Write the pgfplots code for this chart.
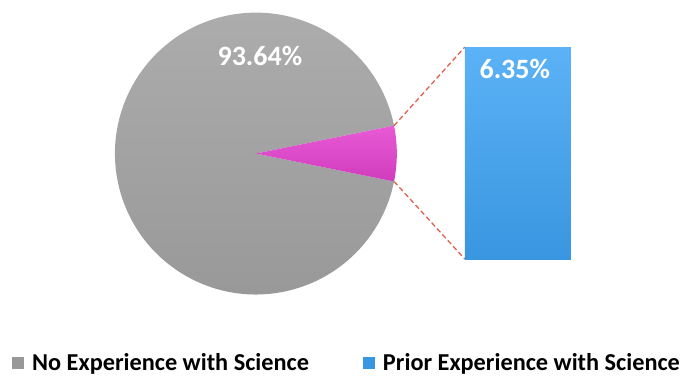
\documentclass[border=0pt]{standalone}
\usepackage{fontspec}
\setmainfont{Carlito}
\usepackage{pgfplots}
\pgfplotsset{compat=1.18}
\definecolor{pieTop}{HTML}{ADADAD}
\definecolor{pieBot}{HTML}{989898}
\definecolor{pinkTop}{HTML}{E85AD6}
\definecolor{pinkBot}{HTML}{D03CBC}
\definecolor{blueTop}{HTML}{5CB2F6}
\definecolor{blueBot}{HTML}{3996E0}
\definecolor{dashRed}{HTML}{E0604E}
\begin{document}
\begin{tikzpicture}
\def\valNo{93.64}
\def\valPrior{6.35}
\pgfmathsetmacro{\half}{\valPrior*3.6/2}
\begin{axis}[
  scale only axis, width=682bp, height=377bp,
  xmin=0, xmax=682, ymin=0, ymax=377,
  hide axis, clip=false,
  legend columns=2,
  legend style={at={(axis cs:12,15)}, anchor=west, draw=none, fill=none,
    font=\bfseries\fontsize{24.3bp}{26bp}\selectfont, inner sep=0pt,
    nodes={inner sep=2bp},
    /tikz/every even column/.append style={column sep=52bp}},
  legend cell align=left,
]
\addlegendimage{legend image code/.code={\fill[pieBot, draw=none] (0bp,-6bp) rectangle (12bp,6bp); \path[draw=none, fill=none] (0bp,0bp) rectangle (18bp,0.1bp);}}
\addlegendentry{No Experience with Science}
\addlegendimage{legend image code/.code={\fill[blueBot, draw=none] (0bp,-6bp) rectangle (12bp,6bp); \path[draw=none, fill=none] (0bp,0bp) rectangle (18bp,0.1bp);}}
\addlegendentry{Prior Experience with Science}
\path (axis cs:0,0) rectangle (axis cs:682,377);
% pie: main (gray) sector
\shade[top color=pieTop, bottom color=pieBot]
  (axis cs:256,224.5) -- ++(\half:141bp) arc[start angle=\half, end angle=360-\half, radius=141bp] -- cycle;
% pie: small (pink) sector
\shade[top color=pinkTop, bottom color=pinkBot]
  (axis cs:256,224.5) -- ++(-\half:141bp) arc[start angle=-\half, end angle=\half, radius=141bp] -- cycle;
% connector lines
\addplot[forget plot, dashRed, line width=1.3pt, dash pattern=on 5pt off 3pt] coordinates {(394.2,252.4) (465,331)};
\addplot[forget plot, dashRed, line width=1.3pt, dash pattern=on 5pt off 3pt] coordinates {(394.2,196.6) (465,119)};
% bar of the small share
\addplot[forget plot, draw=none, top color=blueTop, bottom color=blueBot]
  coordinates {(465,119) (571,119) (571,331) (465,331)} -- cycle;
\node[text=white, font=\bfseries\fontsize{28bp}{30bp}\selectfont] at (axis cs:260,322) {93.64\%};
\node[text=white, font=\bfseries\fontsize{28bp}{30bp}\selectfont] at (axis cs:515,309) {6.35\%};
\end{axis}
\end{tikzpicture}
\end{document}
